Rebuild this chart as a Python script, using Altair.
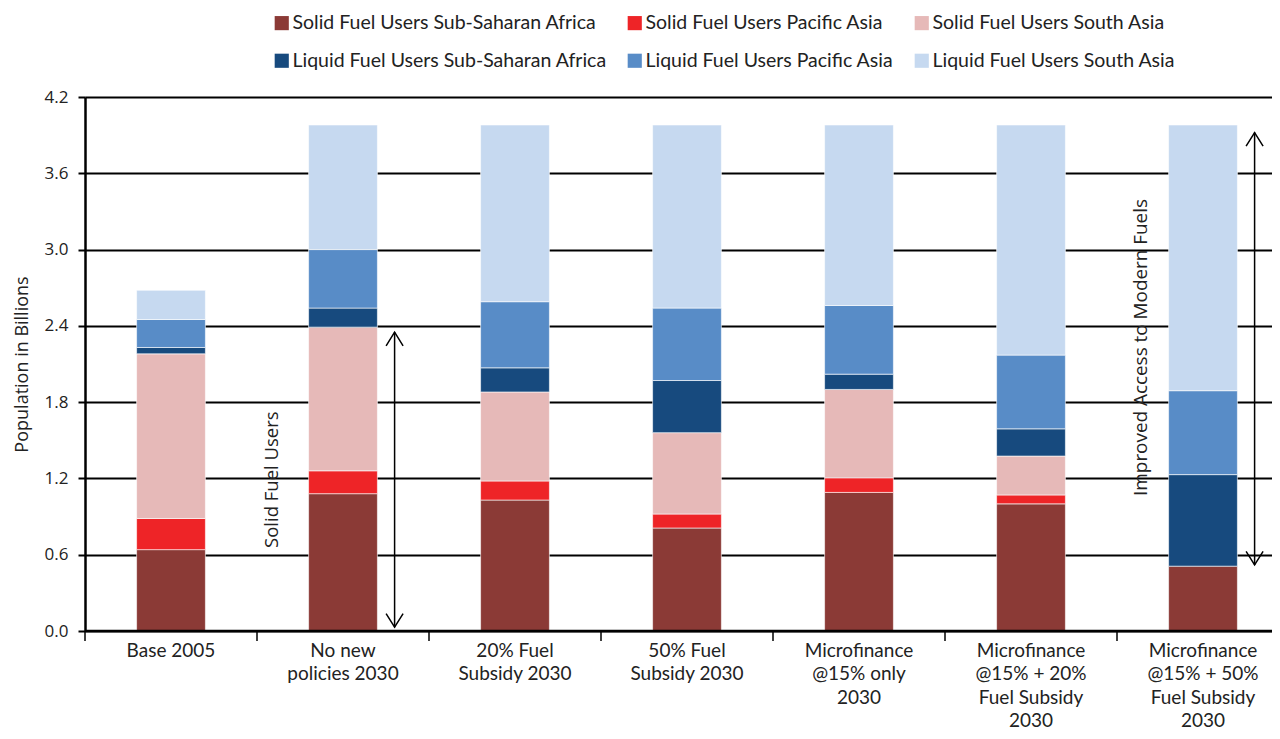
import altair as alt
import pandas as pd

categories = [
    "Base 2005",
    "No new\npolicies 2030",
    "20% Fuel\nSubsidy 2030",
    "50% Fuel\nSubsidy 2030",
    "Microfinance\n@15% only\n2030",
    "Microfinance\n@15% + 20%\nFuel Subsidy\n2030",
    "Microfinance\n@15% + 50%\nFuel Subsidy\n2030",
]

series_names = [
    "Solid Fuel Users Sub-Saharan Africa",
    "Solid Fuel Users Pacific Asia",
    "Solid Fuel Users South Asia",
    "Liquid Fuel Users Sub-Saharan Africa",
    "Liquid Fuel Users Pacific Asia",
    "Liquid Fuel Users South Asia",
]

solid_ssa = [0.64, 1.08, 1.03, 0.81, 1.09, 1.00, 0.51]
solid_pacific = [0.245, 0.18, 0.15, 0.11, 0.115, 0.07, 0.0]
solid_south = [1.295, 1.13, 0.70, 0.64, 0.695, 0.306, 0.0]
liquid_ssa = [0.05, 0.15, 0.19, 0.41, 0.12, 0.214, 0.72]
liquid_pacific = [0.22, 0.46, 0.52, 0.57, 0.54, 0.58, 0.66]
liquid_south = [0.23, 0.98, 1.39, 1.44, 1.42, 1.81, 2.09]

colors = ["#8B3A36", "#EE2427", "#E6B9B8", "#174A7E", "#588CC7", "#C6D9F0"]

y_ticks = [0.0, 0.6, 1.2, 1.8, 2.4, 3.0, 3.6, 4.2]

# annotations
arrow_cats = [categories[1], categories[6]]
arrow_top = [2.35, 3.92]
arrow_bottom = [0.03, 0.52]
note_cats = [categories[1], categories[6]]
note_y = [1.19, 2.23]
note_text = ["Solid Fuel Users", "Improved Access to Modern Fuels"]

series_values = [solid_ssa, solid_pacific, solid_south, liquid_ssa, liquid_pacific, liquid_south]
rows = []
for si, (name, vals) in enumerate(zip(series_names, series_values)):
    for ci, cat in enumerate(categories):
        if vals[ci] > 0:
            rows.append({"cat": cat, "series": name, "order": si, "value": vals[ci]})
df = pd.DataFrame(rows)

# legend is laid out column by column: pair solid/liquid per region
legend_order = [0, 3, 1, 4, 2, 5]
legend_domain = [series_names[i] for i in legend_order]
legend_range = [colors[i] for i in legend_order]

PLOT_W = 1187
BAND_RANGE = 1204  # bands continue past the visible right edge, as in the original
x_scale = alt.Scale(domain=categories, paddingInner=0, paddingOuter=0, range=[0, BAND_RANGE])
y_scale = alt.Scale(domain=[0, 4.2], nice=False)
x_axis = alt.Axis(
    title=None, labelAngle=0, ticks=False, domain=False,
    labelExpr="split(datum.label, '\\n')",
    labelFont="Lato", labelFontSize=19, labelLineHeight=23.5,
    labelPadding=10, labelColor="#222222", labelLimit=0,
)


def xenc(pos=None):
    if pos is None:
        return alt.X("cat:N", scale=x_scale, sort=categories, axis=x_axis)
    return alt.X("cat:N", bandPosition=pos, scale=x_scale, sort=categories, axis=x_axis)


bars = alt.Chart(df).mark_bar(width={"band": 0.4}, stroke="white", strokeWidth=0.6).encode(
    x=xenc(),
    y=alt.Y(
        "value:Q", stack="zero", scale=y_scale,
        axis=alt.Axis(
            title="Population in Billions", values=y_ticks, format=".1f",
            grid=True, gridColor="black", gridWidth=2, gridOpacity=1,
            domain=True, domainColor="black", domainWidth=2.5,
            ticks=True, tickColor="black", tickSize=7, tickWidth=2,
            labelFont="Open Sans", labelFontSize=17, labelColor="#222222", labelPadding=10,
            titleFont="Open Sans", titleFontSize=18, titleFontWeight="normal",
            titleColor="#222222", titlePadding=13,
        ),
    ),
    color=alt.Color(
        "series:N", scale=alt.Scale(domain=legend_domain, range=legend_range),
        legend=alt.Legend(
            title=None, orient="none", legendX=187, legendY=-84, columns=3,
            symbolType="square", symbolSize=200, symbolStrokeWidth=0,
            labelFont="Lato", labelFontSize=19.5, labelColor="#222222", labelLimit=0,
            labelOffset=1, rowPadding=17, columnPadding=18, padding=0,
        ),
    ),
    order=alt.Order("order:Q"),
)

zero_rule = alt.Chart(pd.DataFrame({"y": [0.0]})).mark_rule(color="black", strokeWidth=2.5).encode(
    y=alt.Y("y:Q", scale=y_scale)
)

tick_df = pd.DataFrame({"cat": categories})
x_ticks = alt.Chart(tick_df).mark_rule(color="black", strokeWidth=1.5).encode(
    x=xenc(0),
    y=alt.value(534), y2=alt.value(544),
)

arrow_df = pd.DataFrame({"cat": arrow_cats, "top": arrow_top, "bottom": arrow_bottom})
arrow_lines = alt.Chart(arrow_df).mark_rule(color="black", strokeWidth=1.5).encode(
    x=xenc(0.8), y=alt.Y("top:Q", scale=y_scale), y2="bottom:Q"
)
heads_up = alt.Chart(arrow_df).mark_point(
    shape="M-1,1.6L0,0L1,1.6", filled=False, color="black", strokeWidth=1.5, size=289, opacity=1
).encode(x=xenc(0.8), y=alt.Y("top:Q", scale=y_scale))
heads_down = alt.Chart(arrow_df).mark_point(
    shape="M-1,-1.6L0,0L1,-1.6", filled=False, color="black", strokeWidth=1.5, size=289, opacity=1
).encode(x=xenc(0.8), y=alt.Y("bottom:Q", scale=y_scale))

note1 = alt.Chart(pd.DataFrame({"cat": [note_cats[0]], "y": [note_y[0]], "t": [note_text[0]]})).mark_text(
    angle=270, align="center", baseline="middle", font="Open Sans", fontSize=18.5, color="#222222"
).encode(
    x=xenc(0.09), y=alt.Y("y:Q", scale=y_scale), text="t:N",
)
note2 = alt.Chart(pd.DataFrame({"cat": [note_cats[1]], "y": [note_y[1]], "t": [note_text[1]]})).mark_text(
    angle=270, align="center", baseline="middle", font="Open Sans", fontSize=18.9, color="#222222"
).encode(
    x=xenc(0.14), y=alt.Y("y:Q", scale=y_scale), text="t:N",
)

chart = alt.layer(
    bars, zero_rule, x_ticks, arrow_lines, heads_up, heads_down, note1, note2
).properties(
    width=PLOT_W, height=534,
    padding={"left": 77, "top": 89, "right": 0, "bottom": 100},
    autosize=alt.AutoSizeParams(type="none"),
).configure_view(stroke=None).configure(background="white")

chart.save("out.html", embed_options={"renderer": "svg", "actions": False})
